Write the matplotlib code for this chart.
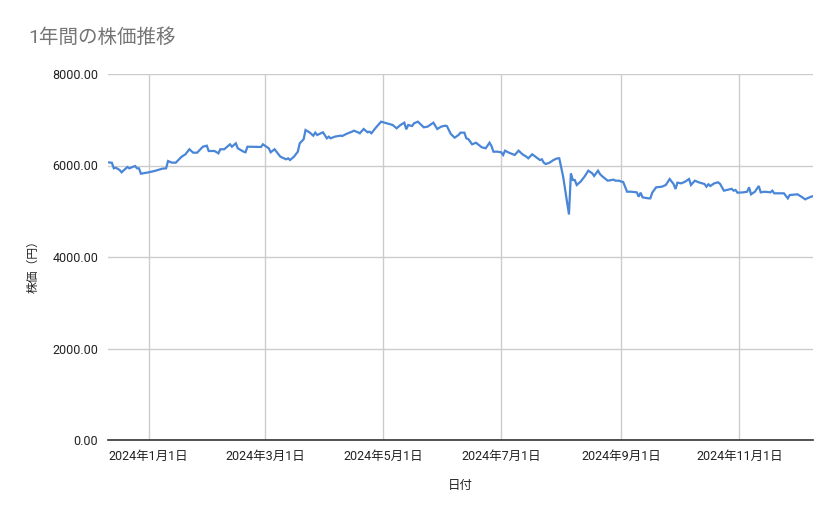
import matplotlib
matplotlib.use("Agg")
import matplotlib.pyplot as plt
import matplotlib.dates as mdates
import matplotlib.ticker as mticker
import pandas as pd

plt.rcParams['font.family'] = ['Roboto', 'Noto Sans CJK JP', 'DejaVu Sans']

title = "1年間の株価推移"
x_label = "日付"
y_label = "株価（円）"

dates = [
    "2023-12-11", "2023-12-13", "2023-12-14", "2023-12-15", "2023-12-17", "2023-12-18",
    "2023-12-21", "2023-12-22", "2023-12-25", "2023-12-26", "2023-12-27", "2023-12-28",
    "2024-01-01", "2024-01-04", "2024-01-08", "2024-01-10", "2024-01-11", "2024-01-13",
    "2024-01-15", "2024-01-18", "2024-01-20", "2024-01-22", "2024-01-24", "2024-01-26",
    "2024-01-29", "2024-01-31", "2024-02-01", "2024-02-04", "2024-02-06", "2024-02-07",
    "2024-02-09", "2024-02-12", "2024-02-13", "2024-02-15", "2024-02-16", "2024-02-19",
    "2024-02-20", "2024-02-21", "2024-02-28", "2024-02-29", "2024-03-03", "2024-03-04",
    "2024-03-06", "2024-03-08", "2024-03-09", "2024-03-12", "2024-03-13", "2024-03-14",
    "2024-03-16", "2024-03-18", "2024-03-19", "2024-03-21", "2024-03-22", "2024-03-24",
    "2024-03-26", "2024-03-27", "2024-03-28", "2024-03-31", "2024-04-02", "2024-04-03",
    "2024-04-04", "2024-04-06", "2024-04-09", "2024-04-10", "2024-04-12", "2024-04-15",
    "2024-04-16", "2024-04-18", "2024-04-19", "2024-04-21", "2024-04-23", "2024-04-24",
    "2024-04-25", "2024-04-27", "2024-04-30", "2024-05-03", "2024-05-06", "2024-05-08",
    "2024-05-10", "2024-05-12", "2024-05-13", "2024-05-14", "2024-05-16", "2024-05-17",
    "2024-05-19", "2024-05-22", "2024-05-24", "2024-05-27", "2024-05-29", "2024-05-31",
    "2024-06-02", "2024-06-03", "2024-06-05", "2024-06-07", "2024-06-09", "2024-06-10",
    "2024-06-12", "2024-06-13", "2024-06-14", "2024-06-16", "2024-06-18", "2024-06-20",
    "2024-06-21", "2024-06-23", "2024-06-25", "2024-06-26", "2024-06-27", "2024-06-29",
    "2024-07-01", "2024-07-02", "2024-07-03", "2024-07-05", "2024-07-08", "2024-07-10",
    "2024-07-12", "2024-07-14", "2024-07-15", "2024-07-17", "2024-07-18", "2024-07-21",
    "2024-07-22", "2024-07-23", "2024-07-24", "2024-07-26", "2024-07-28", "2024-07-30",
    "2024-07-31", "2024-08-02", "2024-08-05", "2024-08-06", "2024-08-07", "2024-08-08",
    "2024-08-09", "2024-08-11", "2024-08-13", "2024-08-15", "2024-08-17", "2024-08-18",
    "2024-08-20", "2024-08-21", "2024-08-22", "2024-08-25", "2024-08-27", "2024-08-28",
    "2024-08-29", "2024-08-31", "2024-09-01", "2024-09-02", "2024-09-04", "2024-09-06",
    "2024-09-09", "2024-09-10", "2024-09-11", "2024-09-12", "2024-09-15", "2024-09-16",
    "2024-09-17", "2024-09-19", "2024-09-22", "2024-09-24", "2024-09-26", "2024-09-28",
    "2024-09-29", "2024-09-30", "2024-10-02", "2024-10-04", "2024-10-06", "2024-10-07",
    "2024-10-09", "2024-10-11", "2024-10-14", "2024-10-15", "2024-10-16", "2024-10-17",
    "2024-10-19", "2024-10-21", "2024-10-22", "2024-10-24", "2024-10-27", "2024-10-28",
    "2024-10-29", "2024-10-30", "2024-10-31", "2024-11-03", "2024-11-05", "2024-11-06",
    "2024-11-07", "2024-11-09", "2024-11-11", "2024-11-12", "2024-11-14", "2024-11-17",
    "2024-11-18", "2024-11-19", "2024-11-24", "2024-11-26", "2024-11-27", "2024-12-01",
    "2024-12-03", "2024-12-05", "2024-12-06", "2024-12-08", "2024-12-09",
]

prices = [
    6070, 6060, 5938, 5952, 5902, 5851,
    5967, 5938, 5989, 5938, 5938, 5821,
    5851, 5880, 5930, 5938, 6098, 6062,
    6062, 6192, 6245, 6355, 6280, 6280,
    6411, 6433, 6317, 6317, 6266, 6355,
    6355, 6463, 6411, 6485, 6376, 6302,
    6289, 6411, 6405, 6463, 6376, 6289,
    6355, 6245, 6192, 6135, 6157, 6120,
    6192, 6302, 6485, 6573, 6776, 6726,
    6652, 6718, 6667, 6726, 6594, 6630,
    6594, 6630, 6652, 6645, 6689, 6740,
    6761, 6726, 6704, 6798, 6726, 6740,
    6704, 6813, 6958, 6922, 6885, 6813,
    6885, 6936, 6791, 6885, 6863, 6922,
    6958, 6835, 6849, 6936, 6798, 6849,
    6871, 6860, 6689, 6608, 6667, 6718,
    6718, 6594, 6579, 6463, 6498, 6433,
    6398, 6376, 6498, 6426, 6302, 6302,
    6289, 6230, 6324, 6280, 6230, 6324,
    6245, 6192, 6157, 6245, 6215, 6120,
    6135, 6062, 6033, 6062, 6120, 6157,
    6157, 5755, 4930, 5829, 5683, 5683,
    5574, 5647, 5755, 5887, 5829, 5771,
    5887, 5814, 5771, 5668, 5683, 5690,
    5668, 5668, 5647, 5640, 5427, 5427,
    5413, 5318, 5406, 5304, 5282, 5282,
    5406, 5523, 5537, 5574, 5705, 5595,
    5486, 5624, 5610, 5647, 5705, 5574,
    5668, 5632, 5595, 5537, 5590, 5552,
    5610, 5632, 5600, 5450, 5479, 5490,
    5450, 5465, 5406, 5413, 5427, 5523,
    5370, 5427, 5552, 5413, 5427, 5413,
    5450, 5392, 5392, 5282, 5355, 5370,
    5318, 5260, 5282, 5318, 5330,
]

y_ticks = [0, 2000, 4000, 6000, 8000]

x = pd.to_datetime(dates)

fig = plt.figure(figsize=(8.39, 5.19), dpi=100)
ax = fig.add_axes([108 / 839, 1 - 440 / 519, (813 - 108) / 839, (440 - 74) / 519])

ax.plot(x, prices, color='#4a86d8', linewidth=1.6, solid_joinstyle='miter', zorder=3)

ax.set_ylim(0, 8000)
ax.set_yticks(y_ticks)
ax.yaxis.set_major_formatter(mticker.FuncFormatter(lambda v, p: f"{v:.2f}"))
ax.set_xlim(x[0], x[-1])

ax.xaxis.set_major_locator(mdates.MonthLocator(bymonth=[1, 3, 5, 7, 9, 11]))
ax.xaxis.set_major_formatter(mticker.FuncFormatter(
    lambda v, p: (lambda d: f"{d.year}年{d.month}月{d.day}日")(mdates.num2date(v))))

ax.grid(True, color='#cccccc', linewidth=1.0, zorder=0)
for s in ['top', 'right', 'left']:
    ax.spines[s].set_visible(False)
ax.spines['bottom'].set_color('#333333')
ax.spines['bottom'].set_linewidth(1.2)
ax.spines['bottom'].set_zorder(4)

ax.tick_params(axis='both', length=0, labelsize=9, labelcolor='#222222')
ax.tick_params(axis='y', pad=7)
ax.tick_params(axis='x', pad=7)

ax.set_xlabel(x_label, fontsize=9, color='#222222', va='center')
ax.xaxis.set_label_coords(0.5, (440 - 486) / 366)
ax.set_ylabel(y_label, fontsize=8.5, color='#222222', va='center')
ax.yaxis.set_label_coords((33 - 108) / 705, (440 - 264) / 366)

fig.text(28 / 839, 1 - 38 / 519, title, fontsize=14, color='#757575', ha='left', va='center')

fig.savefig('out.png', dpi=100)
